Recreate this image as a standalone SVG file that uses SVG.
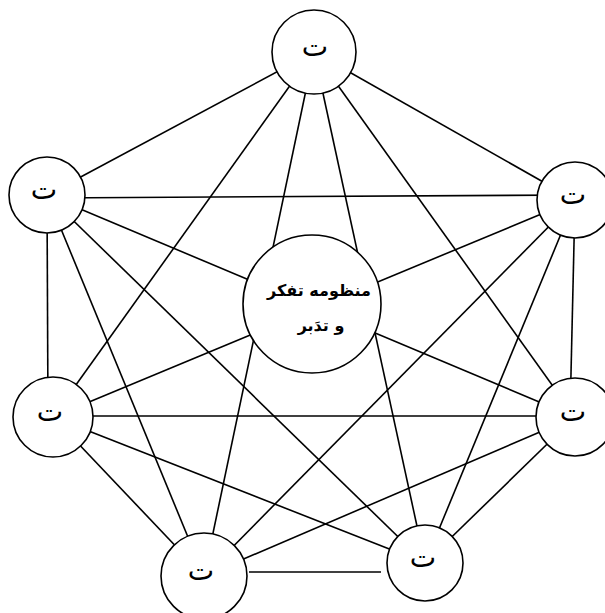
<svg xmlns="http://www.w3.org/2000/svg" width="605" height="613" viewBox="0 0 605 613">
<style>
.e{stroke:#000;stroke-width:1.6;fill:none}
.n{fill:#fff;stroke:#000;stroke-width:1.6}
.t{font-family:"DejaVu Sans","Noto Sans",sans-serif;font-size:28px;text-anchor:middle;fill:#000}
.c{font-family:"DejaVu Sans","Noto Sans",sans-serif;font-size:16px;font-weight:bold;text-anchor:middle;fill:#000}
</style>
<rect width="605" height="613" fill="#fff"/>
<g id="connectors">
<line class="e" x1="314" y1="52" x2="47" y2="195"/>
<line class="e" x1="314" y1="52" x2="575" y2="200"/>
<line class="e" x1="314" y1="52" x2="53" y2="417"/>
<line class="e" x1="314" y1="52" x2="575" y2="417"/>
<line class="e" x1="314" y1="52" x2="204" y2="576"/>
<line class="e" x1="314" y1="52" x2="425" y2="563"/>
<line class="e" x1="47" y1="198" x2="575" y2="195"/>
<line class="e" x1="47" y1="195" x2="48" y2="417"/>
<line class="e" x1="47" y1="195" x2="575" y2="417"/>
<line class="e" x1="47" y1="195" x2="204" y2="576"/>
<line class="e" x1="47" y1="195" x2="425" y2="563"/>
<line class="e" x1="575" y1="200" x2="53" y2="417"/>
<line class="e" x1="575" y1="200" x2="570" y2="417"/>
<line class="e" x1="575" y1="200" x2="204" y2="576"/>
<line class="e" x1="575" y1="200" x2="425" y2="563"/>
<line class="e" x1="53" y1="416" x2="575" y2="416"/>
<line class="e" x1="53" y1="417" x2="204" y2="576"/>
<line class="e" x1="53" y1="417" x2="425" y2="563"/>
<line class="e" x1="575" y1="417" x2="204" y2="576"/>
<line class="e" x1="575" y1="417" x2="425" y2="563"/>
<line class="e" x1="249" y1="572" x2="381" y2="572"/>
</g>
<g id="center">
<circle class="n" cx="312" cy="304" r="69"/>
<text class="c" x="319" y="296">منظومه تفکر</text>
<text class="c" x="321" y="331">و تدَبر</text>
</g>
<g id="n-top">
<circle class="n" cx="314" cy="52" r="42"/>
<text class="t" x="315" y="56">ت</text>
</g>
<g id="n-lt">
<circle class="n" cx="47" cy="195" r="38"/>
<text class="t" x="44" y="199">ت</text>
</g>
<g id="n-rt">
<circle class="n" cx="575" cy="200" r="38"/>
<text class="t" x="573" y="204">ت</text>
</g>
<g id="n-lm">
<circle class="n" cx="53" cy="417" r="40"/>
<text class="t" x="50" y="421">ت</text>
</g>
<g id="n-rm">
<circle class="n" cx="575" cy="417" r="39"/>
<text class="t" x="573" y="421">ت</text>
</g>
<g id="n-lb">
<circle class="n" cx="204" cy="576" r="43"/>
<text class="t" x="201" y="580">ت</text>
</g>
<g id="n-rb">
<circle class="n" cx="425" cy="563" r="38"/>
<text class="t" x="423" y="567">ت</text>
</g>
</svg>
